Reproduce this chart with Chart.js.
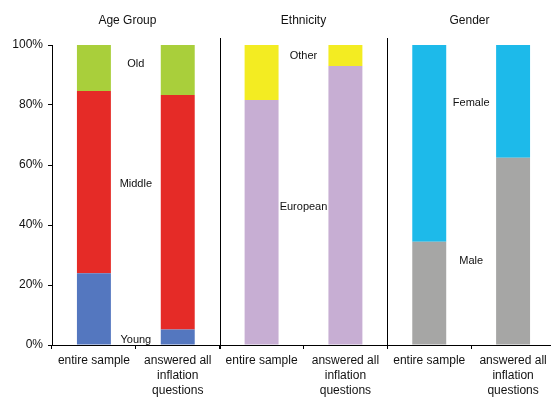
<!DOCTYPE html>
<html>
<head>
<meta charset="utf-8">
<script src="https://cdn.jsdelivr.net/npm/chart.js@4"></script>
<style>
  html, body { margin: 0; padding: 0; background: #fff; overflow: hidden; }
  #wrap { position: relative; width: 556px; height: 399px; }
</style>
</head>
<body>
<div id="wrap"><canvas id="shareChart"></canvas></div>
<script>
// categories (two samples per group)
const categories = [
  'entire sample', ['answered all', 'inflation', 'questions'],
  'entire sample', ['answered all', 'inflation', 'questions'],
  'entire sample', ['answered all', 'inflation', 'questions']
];
const groupTitles = ['Age Group', 'Ethnicity', 'Gender'];

// shares in percent
const young    = [23.9, 5.2, null, null, null, null];
const middle   = [60.8, 78.1, null, null, null, null];
const old      = [15.3, 16.7, null, null, null, null];
const european = [null, null, 81.7, 93.0, null, null];
const other    = [null, null, 18.3, 7.0, null, null];
const male     = [null, null, null, null, 34.4, 62.4];
const female   = [null, null, null, null, 65.6, 37.6];

const yTicks = [0, 20, 40, 60, 80, 100];

const FONT = 'Liberation Sans, Arial, sans-serif';

// text placed in data units (x = category index, y = percent)
const notes = [
  { text: 'Old', x: 0.5, y: 93.7 },
  { text: 'Middle', x: 0.5, y: 53.7 },
  { text: 'Young', x: 0.5, y: 1.6 },
  { text: 'Other', x: 2.5, y: 96.3 },
  { text: 'European', x: 2.5, y: 46 },
  { text: 'Female', x: 4.5, y: 80.7 },
  { text: 'Male', x: 4.5, y: 28 }
];
const titleX = [0.4, 2.5, 4.48];
const separators = [1.5, 3.5];

const extras = {
  id: 'extras',
  afterDatasetsDraw(chart) {
    const ctx = chart.ctx;
    const xs = chart.scales.x, ys = chart.scales.y;
    ctx.save();
    ctx.fillStyle = '#111';
    ctx.textAlign = 'center';
    ctx.textBaseline = 'middle';
    ctx.font = '11px ' + FONT;
    notes.forEach(n => ctx.fillText(n.text, xs.getPixelForValue(n.x), ys.getPixelForValue(n.y)));
    ctx.font = '12px ' + FONT;
    groupTitles.forEach((t, i) => ctx.fillText(t, xs.getPixelForValue(titleX[i]), 21));
    ctx.strokeStyle = '#000';
    ctx.lineWidth = 1;
    separators.forEach(s => {
      const px = Math.round(xs.getPixelForValue(s)) + 0.5;
      ctx.beginPath();
      ctx.moveTo(px, chart.chartArea.top - 7);
      ctx.lineTo(px, chart.chartArea.bottom + 4);
      ctx.stroke();
    });
    ctx.restore();
  }
};

function ds(label, data, color) {
  return { label, data, backgroundColor: color, borderWidth: 0,
           barPercentage: 0.405, categoryPercentage: 1 };
}

const ctx = document.getElementById('shareChart').getContext('2d');
const shareChart = new Chart(ctx, {
  type: 'bar',
  data: {
    labels: categories,
    datasets: [
      ds('Young', young, '#5477bf'),
      ds('Middle', middle, '#e52b27'),
      ds('Old', old, '#a9cf3b'),
      ds('European', european, '#c7aed3'),
      ds('Other', other, '#f3ec22'),
      ds('Male', male, '#a6a6a5'),
      ds('Female', female, '#1dbaea')
    ]
  },
  options: {
    responsive: true,
    maintainAspectRatio: false,
    animation: false,
    layout: { padding: { top: 45, right: 1, left: 0, bottom: 0 } },
    plugins: { legend: { display: false }, tooltip: { enabled: false } },
    scales: {
      x: {
        stacked: true,
        offset: true,
        grid: { drawOnChartArea: false, offset: true, color: '#000', tickLength: 4 },
        border: { color: '#000' },
        ticks: { color: '#111', font: { family: FONT, size: 12, lineHeight: 1.25 },
                 padding: 4, maxRotation: 0, autoSkip: false },
        afterFit(scale) { scale.height = 54; }
      },
      y: {
        stacked: true,
        min: 0,
        max: 100,
        afterBuildTicks(scale) { scale.ticks = yTicks.map(v => ({ value: v })); },
        grid: { drawOnChartArea: false, color: '#000', tickLength: 4 },
        border: { color: '#000' },
        ticks: { color: '#111', font: { family: FONT, size: 12 }, padding: 5,
                 callback: v => v + '%' },
        afterFit(scale) { scale.width = 52; }
      }
    }
  },
  plugins: [extras]
});
</script>
</body>
</html>
